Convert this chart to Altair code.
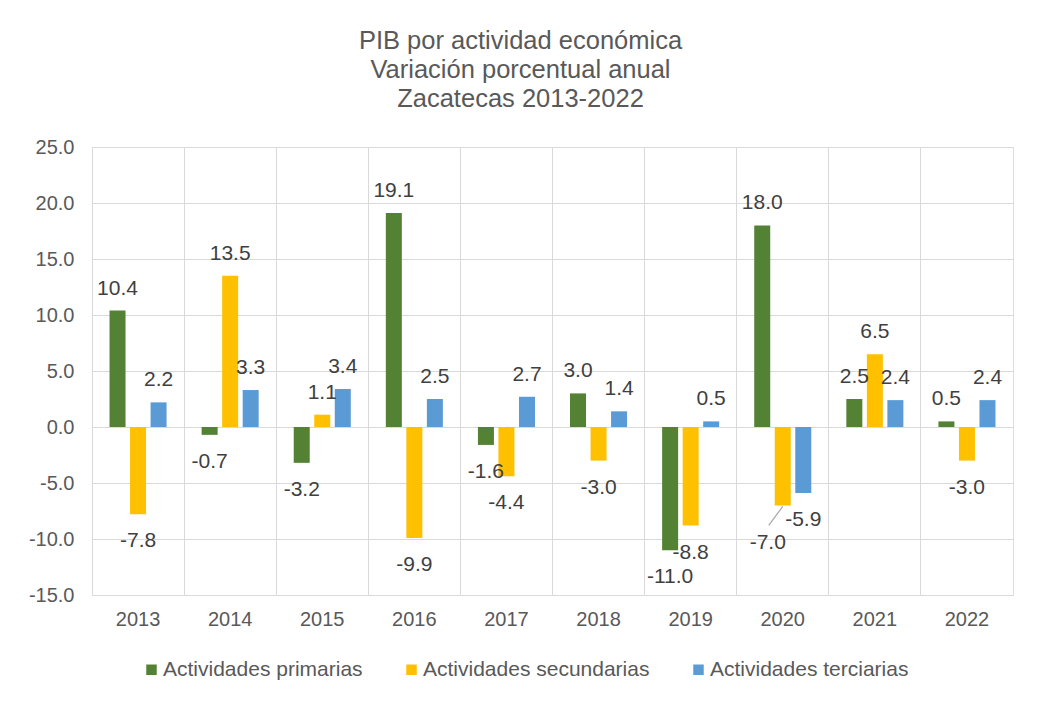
import altair as alt
import pandas as pd

years = ["2013", "2014", "2015", "2016", "2017", "2018", "2019", "2020", "2021", "2022"]
series = ["Actividades primarias", "Actividades secundarias", "Actividades terciarias"]
primarias = [10.4, -0.7, -3.2, 19.1, -1.6, 3.0, -11.0, 18.0, 2.5, 0.5]
secundarias = [-7.8, 13.5, 1.1, -9.9, -4.4, -3.0, -8.8, -7.0, 6.5, -3.0]
terciarias = [2.2, 3.3, 3.4, 2.5, 2.7, 1.4, 0.5, -5.9, 2.4, 2.4]
colors = ["#548235", "#FFC000", "#5B9BD5"]
title_lines = ["PIB por actividad económica", "Variación porcentual anual", "Zacatecas 2013-2022"]
y_ticks = [-15, -10, -5, 0, 5, 10, 15, 20, 25]
# label moved aside with a leader line in the reference
moved_year = "2020"
moved_serie = "Actividades secundarias"

rows = []
for s, vals in zip(series, [primarias, secundarias, terciarias]):
    for yr, v in zip(years, vals):
        rows.append({"year": yr, "serie": s, "valor": v, "etiqueta": f"{v:.1f}",
                     "movida": (yr == moved_year and s == moved_serie)})
df = pd.DataFrame(rows)

FONT = "Liberation Sans"
GRID = "#D9D9D9"

x = alt.X(
    "year:N", title=None, sort=years,
    scale=alt.Scale(paddingInner=0, paddingOuter=0),
    axis=alt.Axis(labelAngle=0, ticks=False, domain=False, grid=True, bandPosition=0,
                  gridColor=GRID, gridWidth=1, labelFontSize=20, labelColor="#595959",
                  labelPadding=14, labelFont=FONT),
)
xoff = alt.XOffset("serie:N", sort=series,
                   scale=alt.Scale(paddingInner=0.22, paddingOuter=0.854))
y = alt.Y(
    "valor:Q", title=None,
    scale=alt.Scale(domain=[-15, 25], nice=False, zero=False),
    axis=alt.Axis(values=y_ticks, ticks=False, domain=False, grid=True, gridColor=GRID,
                  gridWidth=1, labelFontSize=20, labelColor="#595959", labelPadding=18,
                  labelFont=FONT, minExtent=64, maxExtent=64,
                  labelExpr="replace(format(datum.value, '.1f'), '\u2212', '-')"),
)
color = alt.Color(
    "serie:N", sort=series,
    scale=alt.Scale(domain=series, range=colors),
    legend=alt.Legend(title=None, orient="none", legendX=49, legendY=512,
                      direction="horizontal", symbolType="square", symbolSize=110,
                      symbolStrokeWidth=0, labelFontSize=21, labelColor="#595959",
                      labelFont=FONT, columnPadding=38, labelOffset=1, labelLimit=400),
)

base = alt.Chart(df)
bars = base.mark_bar().encode(x=x, xOffset=xoff, y=y, color=color)

pos = base.transform_filter("datum.valor >= 0").mark_text(
    fontSize=21, font=FONT, color="#404040", baseline="middle", dy=-22
).encode(x=x, xOffset=xoff, y=y, text="etiqueta:N")

neg = base.transform_filter("datum.valor < 0 && !datum.movida").mark_text(
    fontSize=21, font=FONT, color="#404040", baseline="middle", dy=27
).encode(x=x, xOffset=xoff, y=y, text="etiqueta:N")

moved = base.transform_filter("datum.movida").mark_text(
    fontSize=21, font=FONT, color="#404040", baseline="middle", dx=-15, dy=38
).encode(x=x, xOffset=xoff, y=y, text="etiqueta:N")

leader = base.transform_filter("datum.movida").mark_point(
    shape="M0,0.05L-0.7,1", size=1600, filled=False, stroke="#A6A6A6", strokeWidth=1.2,
    opacity=1
).encode(x=x, xOffset=xoff, y=y)

chart = alt.layer(bars, pos, neg, moved, leader).properties(
    width=921, height=448,
    padding={"left": 20, "top": 20, "right": 20, "bottom": 10},
    title=alt.TitleParams(text=title_lines, anchor="middle", frame="bounds",
                          fontSize=25.5, lineHeight=29, font=FONT, fontWeight="normal",
                          color="#595959", offset=25),
).configure_view(stroke=GRID, strokeWidth=1).configure(background="white")

chart.save("out.html", embed_options={"renderer": "svg", "actions": False})
